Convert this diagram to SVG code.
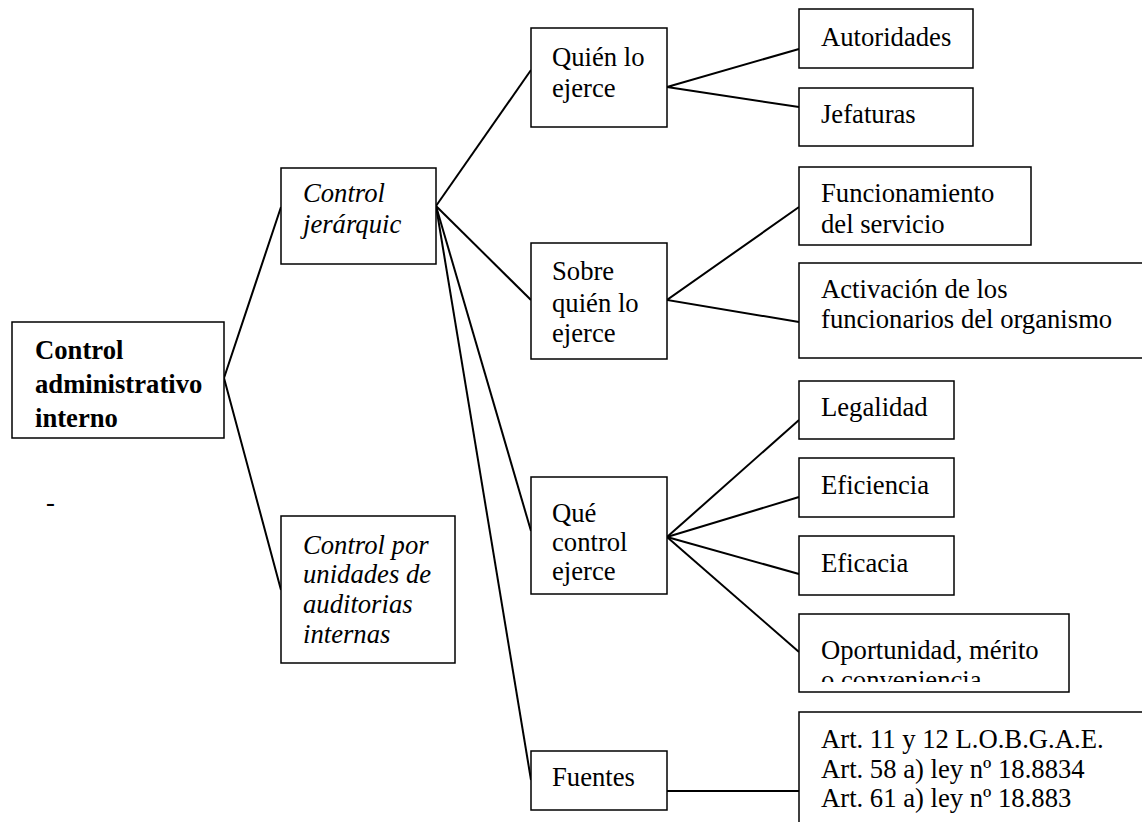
<svg xmlns="http://www.w3.org/2000/svg" width="1142" height="822" viewBox="0 0 1142 822">
  <style>
    text { font-family: "Liberation Serif", Tinos, "Times New Roman", "Noto Serif", "DejaVu Serif", serif; font-size: 26.67px; fill: #000; }
    .box { fill: #fff; stroke: #000; stroke-width: 1.5; }
    .bold { font-weight: bold; }
    .it { font-style: italic; }
    .link { stroke: #000; stroke-width: 2; fill: none; }
  </style>
  <defs>
    <clipPath id="clip-root"><rect x="12" y="322" width="212" height="106"/></clipPath>
    <clipPath id="clip-oport"><rect x="799" y="614" width="270" height="68"/></clipPath>
  </defs>
  <rect width="1142" height="822" fill="#fff"/>

  <!-- connectors -->
  <g id="connectors">
    <polyline class="link" points="281,207 224,378 281,590"/>
    <line class="link" x1="436" y1="206" x2="531" y2="70"/>
    <line class="link" x1="436" y1="206" x2="531" y2="300"/>
    <line class="link" x1="436" y1="206" x2="531" y2="531"/>
    <line class="link" x1="436" y1="206" x2="531" y2="780"/>
    <polyline class="link" points="799,49 667,87 799,107"/>
    <polyline class="link" points="799,207 667,300 799,322"/>
    <line class="link" x1="667" y1="537" x2="799" y2="420"/>
    <line class="link" x1="667" y1="537" x2="799" y2="497"/>
    <line class="link" x1="667" y1="537" x2="799" y2="574"/>
    <line class="link" x1="667" y1="537" x2="799" y2="652"/>
    <line class="link" x1="667" y1="791" x2="799" y2="791"/>
  </g>

  <g id="root">
    <rect class="box" x="12" y="322" width="212" height="116"/>
    <g clip-path="url(#clip-root)">
      <text class="bold" x="35" y="359">Control</text>
      <text class="bold" x="35" y="393">administrativo</text>
      <text class="bold" x="35" y="427">interno</text>
    </g>
  </g>

  <text id="dash" x="46" y="511">-</text>

  <g id="control-jerarquico">
    <rect class="box" x="281" y="168" width="155" height="96"/>
    <text class="it" x="303" y="202">Control</text>
    <text class="it" x="303" y="233">jerárquic</text>
  </g>

  <g id="control-auditorias">
    <rect class="box" x="281" y="516" width="174" height="147"/>
    <text class="it" x="303" y="554">Control por</text>
    <text class="it" x="303" y="583">unidades de</text>
    <text class="it" x="303" y="613">auditorias</text>
    <text class="it" x="303" y="643">internas</text>
  </g>

  <g id="quien">
    <rect class="box" x="531" y="28" width="136" height="99"/>
    <text x="552" y="66">Quién lo</text>
    <text x="552" y="97">ejerce</text>
  </g>

  <g id="sobre-quien">
    <rect class="box" x="531" y="243" width="136" height="116"/>
    <text x="552" y="280">Sobre</text>
    <text x="552" y="312">quién lo</text>
    <text x="552" y="342">ejerce</text>
  </g>

  <g id="que-control">
    <rect class="box" x="531" y="477" width="136" height="117"/>
    <text x="552" y="522">Qué</text>
    <text x="552" y="551">control</text>
    <text x="552" y="580">ejerce</text>
  </g>

  <g id="fuentes">
    <rect class="box" x="531" y="751" width="136" height="59"/>
    <text x="552" y="786">Fuentes</text>
  </g>

  <g id="autoridades">
    <rect class="box" x="799" y="9" width="174" height="59"/>
    <text x="821" y="46">Autoridades</text>
  </g>

  <g id="jefaturas">
    <rect class="box" x="799" y="88" width="174" height="58"/>
    <text x="821" y="123">Jefaturas</text>
  </g>

  <g id="funcionamiento">
    <rect class="box" x="799" y="167" width="232" height="78"/>
    <text x="821" y="202">Funcionamiento</text>
    <text x="821" y="233">del servicio</text>
  </g>

  <g id="activacion">
    <rect class="box" x="799" y="263" width="345" height="95"/>
    <text x="821" y="298">Activación de los</text>
    <text x="821" y="328">funcionarios del organismo</text>
  </g>

  <g id="legalidad">
    <rect class="box" x="799" y="381" width="155" height="58"/>
    <text x="821" y="416">Legalidad</text>
  </g>

  <g id="eficiencia">
    <rect class="box" x="799" y="458" width="155" height="59"/>
    <text x="821" y="494">Eficiencia</text>
  </g>

  <g id="eficacia">
    <rect class="box" x="799" y="536" width="155" height="59"/>
    <text x="821" y="572">Eficacia</text>
  </g>

  <g id="oportunidad">
    <rect class="box" x="799" y="614" width="270" height="78"/>
    <g clip-path="url(#clip-oport)">
      <text x="821" y="659">Oportunidad, mérito</text>
      <text x="821" y="689">o conveniencia</text>
    </g>
  </g>

  <g id="art-fuentes">
    <rect class="box" x="799" y="712" width="345" height="120"/>
    <text x="821" y="748">Art. 11 y 12 L.O.B.G.A.E.</text>
    <text x="821" y="778">Art. 58 a) ley nº 18.8834</text>
    <text x="821" y="807">Art. 61 a) ley nº 18.883</text>
  </g>
</svg>
